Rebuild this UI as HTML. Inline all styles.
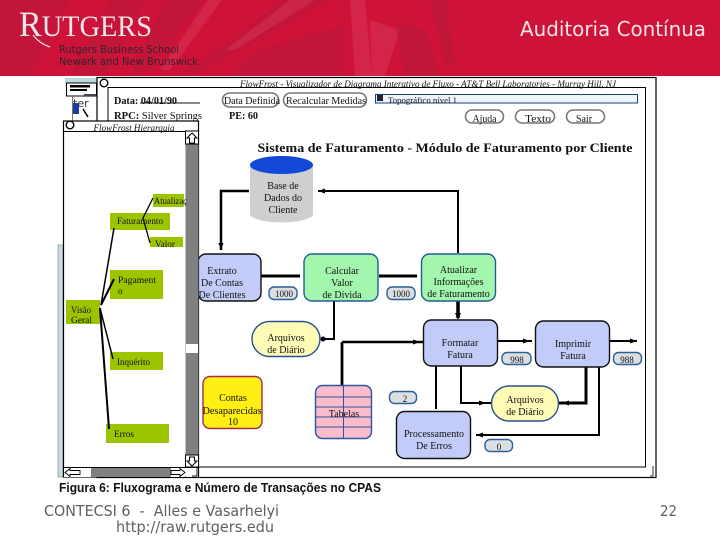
<!DOCTYPE html>
<html lang="pt">
<head>
<meta charset="utf-8">
<title>Auditoria Contínua</title>
<style>
html,body{margin:0;padding:0;background:#fff;width:720px;height:540px;overflow:hidden}
svg{display:block}
.s{font-family:"Liberation Serif",serif;font-size:10px;fill:#111;text-anchor:middle}
.b{font-family:"Liberation Serif",serif;font-size:10px;font-weight:bold;fill:#111}
.l{font-family:"DejaVu Sans",sans-serif}
.w{stroke:#000;fill:none;stroke-width:2}
</style>
</head>
<body>
<svg width="720" height="540" viewBox="0 0 720 540" xmlns="http://www.w3.org/2000/svg">
<defs>
<clipPath id="hc"><rect x="0" y="0" width="720" height="76"/></clipPath>
</defs>
<rect width="720" height="540" fill="#fff"/>

<!-- header -->
<rect width="720" height="76" fill="#cf1237"/>
<g clip-path="url(#hc)">
<g fill="#c0153a" opacity=".75">
<polygon points="0,0 70,0 30,76 0,76"/>
<polygon points="110,0 145,0 105,76 70,76"/>
<polygon points="165,0 205,0 145,76 130,76"/>
<polygon points="240,35 280,0 330,0 195,76 175,76"/>
<polygon points="255,50 345,25 345,76 230,76"/>
</g>
<g fill="#d9435f" opacity=".4">
<polygon points="208,0 222,0 170,70 160,70"/>
<polygon points="290,0 315,0 235,50 225,50"/>
<polygon points="350,0 365,0 372,76 355,76"/>
<polygon points="370,20 400,30 385,76 372,76"/>
</g>
<g fill="#bb1a3a" opacity=".7">
<polygon points="395,20 425,30 440,76 405,76"/>
<polygon points="430,0 447,0 455,65 445,65"/>
</g>
</g>
<text x="19" y="36" font-family="Liberation Serif,serif" font-size="36" fill="#f5e6ea" textLength="133" lengthAdjust="spacingAndGlyphs">R<tspan font-size="30">UTGERS</tspan></text>
<path d="M33 35 Q40 44 50 47" stroke="#f5e6ea" stroke-width="1.200" fill="none"/>
<text x="59" y="53" class="l" font-size="11" fill="#30252a" textLength="120" lengthAdjust="spacingAndGlyphs">Rutgers Business School</text>
<text x="59" y="65" class="l" font-size="11" fill="#30252a" textLength="139" lengthAdjust="spacingAndGlyphs">Newark and New Brunswick</text>
<text x="520" y="36" class="l" font-size="20" fill="#f4e4e8" textLength="186" lengthAdjust="spacingAndGlyphs">Auditoria Contínua</text>

<!-- back-left window -->
<rect x="65" y="78" width="32" height="43" fill="#fff"/>
<rect x="65" y="78" width="32" height="8" fill="#bcdcdc"/>
<rect x="66.500" y="83" width="30" height="13" fill="#fff" stroke="#000"/>
<rect x="70" y="85" width="20" height="2.500" fill="#000"/>
<rect x="70" y="89" width="17" height="2" fill="#000"/>
<rect x="84" y="94" width="14" height="2" fill="#444"/>
<text x="73" y="107" class="l" font-size="11" fill="#333">ter</text>
<rect x="73" y="103" width="6" height="11" fill="#1f3aa0"/>
<path d="M83 109 L88 117" stroke="#000" stroke-width="1.500"/>
<path d="M72.500 96 V121" stroke="#777" stroke-width="1"/>

<!-- main window -->
<rect x="97" y="77.500" width="559" height="400" fill="#fff" stroke="#000" stroke-width="1.200"/>
<path d="M108 87.500 H645.500 V467 H108 Z" fill="#fff" stroke="#000" stroke-width="1"/>
<circle cx="104" cy="83" r="3.800" fill="#fff" stroke="#000" stroke-width="1.400"/>
<text x="428" y="87" font-family="Liberation Serif,serif" font-size="9" font-style="italic" fill="#111" text-anchor="middle" textLength="376" lengthAdjust="spacingAndGlyphs">FlowFrost - Visualizador de Diagrama Interativo de Fluxo - AT&amp;T Bell Laboratories - Murray Hill, NJ</text>
<path d="M650 476 H653 V466" fill="none" stroke="#000" stroke-width=".8"/>

<text x="114" y="104" class="b" textLength="63" lengthAdjust="spacingAndGlyphs">Data: 04/01/90</text>
<path d="M140 103 H200" stroke="#111" stroke-width="1"/>
<text x="114" y="119" class="b" textLength="88" lengthAdjust="spacingAndGlyphs">RPC: <tspan font-weight="normal">Silver Springs</tspan></text>
<text x="229" y="119" class="b" textLength="29" lengthAdjust="spacingAndGlyphs">PE: 60</text>

<g fill="#fff" stroke="#777" stroke-width="1.600">
<rect x="222.500" y="93" width="56" height="14" rx="7"/>
<rect x="283.500" y="93" width="83" height="14" rx="7"/>
<rect x="465.500" y="110" width="38" height="13" rx="6.500"/>
<rect x="515.500" y="110" width="39" height="13" rx="6.500"/>
<rect x="566.500" y="110" width="38" height="13" rx="6.500"/>
</g>
<text x="252" y="104" class="s" textLength="56" lengthAdjust="spacingAndGlyphs">Data Definida</text>
<text x="326" y="104" class="s" textLength="80" lengthAdjust="spacingAndGlyphs">Recalcular Medidas</text>
<text x="484.500" y="122" class="s" textLength="24" lengthAdjust="spacingAndGlyphs">Ajuda</text>
<text x="538" y="122" class="s" textLength="26" lengthAdjust="spacingAndGlyphs">Texto</text>
<text x="584" y="122" class="s" textLength="16" lengthAdjust="spacingAndGlyphs">Sair</text>

<rect x="375.500" y="94.500" width="262" height="8.500" fill="#eef6fb" stroke="#1c3f7a" stroke-width="1"/>
<rect x="377" y="95" width="6" height="6" fill="#223"/>
<text x="388" y="103" font-family="Liberation Serif,serif" font-size="8" fill="#111" textLength="69" lengthAdjust="spacingAndGlyphs">Topográfico nível 1</text>

<text x="445" y="152" font-family="Liberation Serif,serif" font-size="13" font-weight="bold" fill="#111" text-anchor="middle" textLength="375" lengthAdjust="spacingAndGlyphs">Sistema de Faturamento - Módulo de Faturamento por Cliente</text>

<!-- connectors -->
<g class="w">
<path d="M249 191 H221 V250" style="stroke-width:2.500"/>
<path d="M318 191 H458 V253"/>
<path d="M261 276 H300" style="stroke-width:3"/>
<path d="M379 276 H417" style="stroke-width:3"/>
<path d="M334 300 V339 H321"/>
<path d="M458 300 V318" style="stroke-width:3.500"/>
<path d="M342 342 H423" style="stroke-width:2.500"/>
<path d="M342 342 V385" style="stroke-width:2.800"/>
<path d="M497 341 H532"/>
<path d="M610 341 H637"/>
<path d="M436 366 V409"/>
<path d="M461 366 V403 H491"/>
<path d="M586 367 V403 H559" style="stroke-width:3"/>
<path d="M599 367 V435 H476"/>
</g>
<g fill="#000">
<polygon points="221,250 218.500,243 223.500,243"/>
<polygon points="318,191 325,188.500 325,193.500"/>
<polygon points="458,320 455,313 461,313"/>
<polygon points="420,342 413,339.500 413,344.500"/>
<polygon points="530,341 523,338.500 523,343.500"/>
<polygon points="637,341 630,338.500 630,343.500"/>
<polygon points="486,403 479,400.500 479,405.500"/>
<polygon points="562,403 569,400.500 569,405.500"/>
<polygon points="476,435 483,432.500 483,437.500"/>
<circle cx="323" cy="339" r="2.500"/>
</g>

<!-- cylinder -->
<path d="M250 166 V215 A32 9 0 0 0 313 215 V166 Z" fill="#cfcfcf"/>
<ellipse cx="281.500" cy="165" rx="31.500" ry="9" fill="#1148d8"/>
<text x="283" y="189" class="s">Base de</text>
<text x="283" y="201" class="s">Dados do</text>
<text x="283" y="213" class="s">Cliente</text>

<!-- process nodes -->
<rect x="198" y="254" width="63" height="47" rx="8" fill="#c3ccf8" stroke="#111" stroke-width="1.400"/>
<text x="222" y="274" class="s">Extrato</text>
<text x="222" y="286" class="s">De Contas</text>
<text x="222" y="298" class="s">De Clientes</text>

<rect x="304" y="254" width="74" height="47" rx="8" fill="#a4f5ae" stroke="#1f5f96" stroke-width="1.400"/>
<text x="342" y="274" class="s">Calcular</text>
<text x="342" y="286" class="s">Valor</text>
<text x="342" y="298" class="s">de Dívida</text>

<rect x="421.500" y="254" width="74" height="47" rx="8" fill="#a4f5ae" stroke="#1f5f96" stroke-width="1.400"/>
<text x="458.500" y="273" class="s">Atualizar</text>
<text x="458.500" y="285" class="s">Informações</text>
<text x="458.500" y="297" class="s">de Faturamento</text>

<rect x="423.500" y="320" width="74" height="46" rx="8" fill="#c3ccf8" stroke="#111" stroke-width="1.400"/>
<text x="460" y="346" class="s">Formatar</text>
<text x="460" y="358" class="s">Fatura</text>

<rect x="535.500" y="321" width="74" height="46" rx="8" fill="#c3ccf8" stroke="#111" stroke-width="1.400"/>
<text x="573" y="347" class="s">Imprimir</text>
<text x="573" y="359" class="s">Fatura</text>

<rect x="396.500" y="411.500" width="74" height="47" rx="8" fill="#c3ccf8" stroke="#111" stroke-width="1.400"/>
<text x="434" y="437" class="s">Processamento</text>
<text x="434" y="449" class="s">De Erros</text>

<rect x="252" y="321.500" width="68" height="35" rx="17.500" fill="#fdfbb5" stroke="#2a4f96" stroke-width="1.400"/>
<text x="286" y="341" class="s">Arquivos</text>
<text x="286" y="353" class="s">de Diário</text>

<rect x="491.500" y="386" width="67" height="35" rx="17.500" fill="#fdfbb5" stroke="#2a4f96" stroke-width="1.400"/>
<text x="525" y="403" class="s">Arquivos</text>
<text x="525" y="415" class="s">de Diário</text>

<rect x="203" y="376.500" width="59" height="52" rx="7" fill="#ffef12" stroke="#a52a50" stroke-width="1.400"/>
<text x="233" y="401" class="s">Contas</text>
<text x="232" y="414" class="s" textLength="59" lengthAdjust="spacingAndGlyphs">Desaparecidas</text>
<text x="233" y="425" class="s">10</text>

<rect x="315.500" y="385.500" width="56" height="53" rx="7" fill="#f8bccb" stroke="#2f53a5" stroke-width="1.400"/>
<g stroke="#2f53a5" stroke-width="1">
<path d="M316 397 H371 M316 407 H371 M316 417 H371 M316 427 H371 M343.500 386 V438"/>
</g>
<text x="344" y="417" class="s">Tabelas</text>

<!-- small badges -->
<g fill="#dcdfe2" stroke="#2a5f9a" stroke-width="1.400">
<rect x="269" y="287" width="28" height="12.500" rx="5"/>
<rect x="387" y="287" width="28" height="12.500" rx="5"/>
<rect x="502" y="352.500" width="29" height="12" rx="5"/>
<rect x="613.500" y="352.500" width="28" height="12" rx="5"/>
<rect x="389.500" y="391.500" width="27" height="12" rx="5"/>
<rect x="485" y="439.500" width="27.500" height="12" rx="5"/>
</g>
<text x="284" y="297" class="s" style="font-size:9px">1000</text>
<text x="401" y="297" class="s" style="font-size:9px">1000</text>
<text x="517" y="363" class="s" style="font-size:9px">998</text>
<text x="627" y="363" class="s" style="font-size:9px">988</text>
<text x="405" y="402" class="s" style="font-size:9px">2</text>
<text x="499" y="450" class="s" style="font-size:9px">0</text>

<!-- hierarchy window -->
<rect x="58" y="245" width="5" height="232" fill="#c6dede" stroke="#666" stroke-width=".5"/>
<rect x="63.500" y="121" width="135" height="356" fill="#fff" stroke="#000" stroke-width="1.200"/>
<path d="M64 131.500 H198" stroke="#000" stroke-width="1"/>
<circle cx="70" cy="125" r="3.800" fill="#fff" stroke="#000" stroke-width="1.400"/>
<text x="134" y="131" font-family="Liberation Serif,serif" font-size="9" font-style="italic" fill="#111" text-anchor="middle" textLength="81" lengthAdjust="spacingAndGlyphs">FlowFrost Hierarquia</text>

<rect x="185.500" y="131" width="13" height="336" fill="#808080"/>
<rect x="185.500" y="131" width="13" height="13" fill="#fff" stroke="#000"/>
<polygon points="192,133 197,138 194.500,138 194.500,143 189.500,143 189.500,138 187,138" fill="#fff" stroke="#000" stroke-width="1"/>
<rect x="186" y="344" width="12" height="9" fill="#fff"/>
<rect x="185.500" y="455" width="13" height="12" fill="#fff" stroke="#000"/>
<polygon points="192,466 197,461 194.500,461 194.500,457 189.500,457 189.500,461 187,461" fill="#fff" stroke="#000" stroke-width="1"/>

<rect x="64" y="467" width="121" height="10" fill="#808080"/>
<path d="M63.500 467.500 H198" stroke="#000" stroke-width="1"/>
<rect x="64" y="468" width="27" height="9" fill="#fff"/>
<polygon points="65,472.500 70,468.500 70,470.500 80,470.500 80,474.500 70,474.500 70,476.500" fill="#fff" stroke="#000" stroke-width=".9"/>
<rect x="171" y="468" width="14" height="9" fill="#fff"/>
<polygon points="185,472.500 180,468.500 180,470.500 171,470.500 171,474.500 180,474.500 180,476.500" fill="#fff" stroke="#000" stroke-width=".9"/>
<rect x="186" y="468" width="12" height="9" fill="#fff"/>
<path d="M197 468 V476 H192" fill="none" stroke="#000" stroke-width=".9"/>

<!-- tree nodes -->
<g fill="#9cc500">
<rect x="153" y="194" width="31" height="13"/>
<rect x="110" y="213" width="60" height="17"/>
<rect x="150" y="237" width="33" height="10"/>
<rect x="110" y="270" width="53" height="29"/>
<rect x="66" y="300" width="34" height="24"/>
<rect x="110" y="352" width="53" height="18"/>
<rect x="106" y="424" width="63" height="19"/>
</g>

<!-- tree links -->
<g stroke="#000" fill="none">
<path d="M153 198 L143 218 L150 243" stroke-width="1.300"/>
<path d="M114 228 L101 305" stroke-width="1.500"/>
<path d="M114 279 L101 305" stroke-width="2"/>
<path d="M100 308 L113 359" stroke-width="1.500"/>
<path d="M100 308 L109 429" stroke-width="2"/>
</g>

<text x="154" y="204" font-family="Liberation Serif,serif" font-size="9" fill="#111" textLength="33" lengthAdjust="spacingAndGlyphs">Atualizaç</text>
<text x="117" y="224" font-family="Liberation Serif,serif" font-size="9" fill="#111" textLength="46" lengthAdjust="spacingAndGlyphs">Faturamento</text>
<text x="155" y="247" font-family="Liberation Serif,serif" font-size="9" fill="#111" textLength="20" lengthAdjust="spacingAndGlyphs">Valor</text>
<text x="118" y="283" font-family="Liberation Serif,serif" font-size="9" fill="#111" textLength="38" lengthAdjust="spacingAndGlyphs">Pagament</text>
<text x="118" y="294" font-family="Liberation Serif,serif" font-size="9" fill="#111">o</text>
<text x="71" y="313" font-family="Liberation Serif,serif" font-size="9" fill="#111" textLength="20" lengthAdjust="spacingAndGlyphs">Visão</text>
<text x="71" y="323" font-family="Liberation Serif,serif" font-size="9" fill="#111" textLength="21" lengthAdjust="spacingAndGlyphs">Geral</text>
<text x="117" y="365" font-family="Liberation Serif,serif" font-size="9" fill="#111" textLength="33" lengthAdjust="spacingAndGlyphs">Inquérito</text>
<text x="114" y="437" font-family="Liberation Serif,serif" font-size="9" fill="#111" textLength="20" lengthAdjust="spacingAndGlyphs">Erros</text>

<!-- footer -->
<text x="59" y="492" font-family="Liberation Sans,sans-serif" font-size="12.500" font-weight="bold" fill="#111" textLength="322" lengthAdjust="spacingAndGlyphs">Figura 6: Fluxograma e Número de Transações no CPAS</text>
<text x="44" y="516" class="l" font-size="15.500" fill="#606060" textLength="235" lengthAdjust="spacingAndGlyphs" xml:space="preserve">CONTECSI 6  -  Alles e Vasarhelyi</text>
<text x="116" y="532" class="l" font-size="15.500" fill="#606060" textLength="158" lengthAdjust="spacingAndGlyphs">http://raw.rutgers.edu</text>
<text x="660" y="516" class="l" font-size="15.500" fill="#606060" textLength="17" lengthAdjust="spacingAndGlyphs">22</text>
</svg>
</body>
</html>
